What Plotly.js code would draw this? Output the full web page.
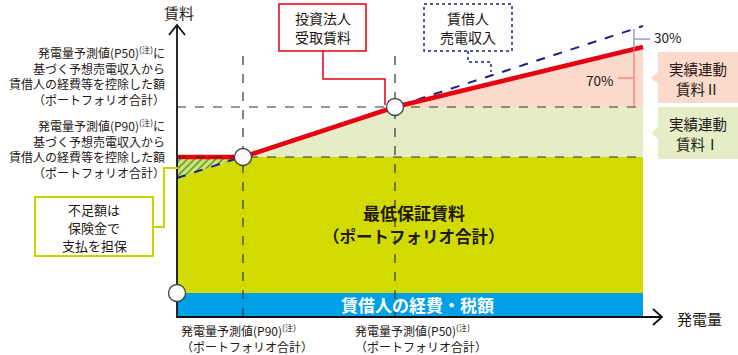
<!DOCTYPE html>
<html><head><meta charset="utf-8">
<script src="https://cdn.plot.ly/plotly-3.0.1.min.js"></script>
<style>html,body{margin:0;padding:0;background:#fff}#c{width:738px;height:355px}</style>
</head><body><div id="c"></div>
<script>
// ---- conceptual data (generation on x, rent on y) ----
const genX = [0, 66, 218, 466];          // origin, P90, P50, end of chart
const expenseTop = 24;                    // lessee expenses & taxes band
const minRent = 160;                      // minimum guaranteed rent
const p50Rent = 210;                      // rent level at P50
const lesseeRevenueX = [0, 466];
const lesseeRevenueY = [139, 291];        // lessee power-sales revenue (dashed)
const investorRentX = [0, 66, 218, 466];
const investorRentY = [160, 160, 210, 270]; // rent received by investment corp.
const axisTopY = 292, axisEndX = 485, refTopY = 264;
const shareLabels = ['30%', '70%'];

const W = 738, H = 355;
const FONT = '"Noto Sans CJK JP", "Noto Sans", sans-serif';
const TXT = '#231815';
const RED = '#e60012', NAVY = '#1d2088', BLUE = '#00a0e9', YG = '#d2db00', LG = '#e4edc6', SAL = '#fbdacb', YGB = '#c8d400';

const P90 = genX[1], P50 = genX[2], XE = genX[3];
const traces = [];
function poly(x, y, color, extra) {
  traces.push(Object.assign({type:'scatter', mode:'lines', x:x, y:y, fill:'toself', fillcolor:color, line:{width:0}, hoverinfo:'skip'}, extra||{}));
}
function line(x, y, color, width, dash) {
  traces.push({type:'scatter', mode:'lines', x:x, y:y, line:{color:color, width:width, dash:dash||'solid'}, hoverinfo:'skip'});
}
// fills
poly([0, XE, XE, 0], [0, 0, expenseTop, expenseTop], BLUE);
poly([0, XE, XE, 0], [expenseTop, expenseTop, minRent, minRent], YG);
poly([P90, P50, XE, XE], [minRent, p50Rent, p50Rent, minRent], LG);
poly([P50, XE, XE], [p50Rent, investorRentY[3], p50Rent], SAL);
poly([0, P90, 0], [minRent, minRent, lesseeRevenueY[0]], YG,
  {fillpattern:{shape:'/', fgcolor:'#4f9a3a', bgcolor:'#d8e070', size:5, solidity:0.3}});
// reference dashed lines
line([P90, P90], [0, refTopY], '#333', 1.2, 'dash');
line([P50, P50], [0, refTopY], '#333', 1.2, 'dash');
line([0, XE], [p50Rent, p50Rent], '#333', 1.2, 'dash');
// revenue & rent
line(lesseeRevenueX, lesseeRevenueY, NAVY, 2, 'dash');
line(investorRentX, investorRentY, RED, 4.5);
line([0, XE], [minRent, minRent], '#333', 1.2, 'dash');
// share brackets
const bx = 457;
const blueAt = lesseeRevenueY[0] + (lesseeRevenueY[1]-lesseeRevenueY[0])*bx/XE;
const redAt = p50Rent + (investorRentY[3]-p50Rent)*(bx-P50)/(XE-P50);
line([bx, bx], [redAt, blueAt], '#8a8fb8', 1.3);
line([bx, bx+16], [(redAt+blueAt)/2, (redAt+blueAt)/2], '#8a8fb8', 1.3);
line([bx, bx], [p50Rent, redAt], '#f08080', 1.3);
line([bx, bx-16], [(redAt+p50Rent)/2, (redAt+p50Rent)/2], '#f08080', 1.3);
// axes
line([0, 0], [-1, axisTopY], '#111', 1.8);
line([-8, 0, 8], [axisTopY-10, axisTopY, axisTopY-10], '#111', 1.8);
line([0, axisEndX], [0, 0], '#111', 1.8);
line([axisEndX-9, axisEndX, axisEndX-9], [8, 0, -8], '#111', 1.8);
// circles
traces.push({type:'scatter', mode:'markers', x:[P90, P50, 0], y:[minRent, p50Rent, expenseTop],
  marker:{size:17, color:'#fff', line:{color:'#444', width:1.3}}, hoverinfo:'skip'});

// ---- layout helpers (paper coords from pixels) ----
const px = x => x / W, py = y => 1 - y / H;
function path(pts, close) { return 'M ' + pts.map(p => px(p[0]) + ',' + py(p[1])).join(' L ') + (close ? ' Z' : ''); }
const shapes = [];
function shp(pts, close, lc, lw, fill, dash) {
  shapes.push({type:'path', xref:'paper', yref:'paper', path:path(pts, close),
    line:{color:lc, width:lw, dash:dash||'solid'}, fillcolor:fill||'rgba(0,0,0,0)', layer:'above'});
}
// boxes & connectors
shp([[323,51],[323,79],[385,79],[385,105]], false, RED, 1.5);
shp([[279,4],[366,4],[366,51],[279,51]], true, RED, 1.5, '#fff');
shp([[468,51],[468,62],[491,62],[491,72]], false, NAVY, 1.5, null, 'dot');
shp([[424,4],[512,4],[512,51],[424,51]], true, NAVY, 1.5, '#fff', 'dot');
shp([[153,227],[164,227],[164,168],[178,168]], false, YGB, 2);
shp([[35,197],[153,197],[153,256],[35,256]], true, YGB, 2, '#fff');
shp([[658,52],[738,52],[738,103],[658,103],[658,84],[651,78],[658,72]], true, 'rgba(0,0,0,0)', 0, SAL);
shp([[658,107],[738,107],[738,159],[658,159],[658,139],[651,133],[658,127]], true, 'rgba(0,0,0,0)', 0, LG);

const ann = [];
function t(text, x, y, size, opts) {
  ann.push(Object.assign({xref:'paper', yref:'paper', x:px(x), y:py(y), text:text, showarrow:false,
    xanchor:'center', yanchor:'middle', align:'center', font:{family:FONT, size:size, color:TXT}}, opts||{}));
}
function lines(arr, x, y0, dy, size, opts) { arr.forEach((s, i) => t(s, x, y0 + i*dy, size, opts)); }
const R = {xanchor:'right', align:'right'}, L = {xanchor:'left', align:'left'};
t(['発電量予測値(P50)<sup>(注)</sup>に','基づく予想売電収入から','賃借人の経費等を控除した額','（ポートフォリオ合計）'].join('<br>'), 167, 76, 12, R);
t(['発電量予測値(P90)<sup>(注)</sup>に','基づく予想売電収入から','賃借人の経費等を控除した額','（ポートフォリオ合計）'].join('<br>'), 167, 148, 12, R);
t(['発電量予測値(P90)<sup>(注)</sup>','（ポートフォリオ合計）'].join('<br>'), 179, 338, 12, L);
t(['発電量予測値(P50)<sup>(注)</sup>','（ポートフォリオ合計）'].join('<br>'), 353, 338, 12, L);
lines(['不足額は','保険金で','支払を担保'], 94, 209, 18, 13);
lines(['投資法人','受取賃料'], 323, 18, 19.5, 14);
lines(['賃借人','売電収入'], 468, 18, 19.5, 14);
lines(['実績連動','賃料Ⅱ'], 698, 69, 19.5, 14.5);
lines(['実績連動','賃料Ⅰ'], 698, 124, 19.5, 14.5);
t(shareLabels[0], 652, 37, 13.5, L);
t(shareLabels[1], 615, 80, 13.5, R);
t('賃料', 179, 13, 15);
t('発電量', 675, 318, 15, L);
t('<b>最低保証賃料</b>', 414, 212, 17);
t('<b>（ポートフォリオ合計）</b>', 414, 236, 16.5);
t('<b>賃借人の経費・税額</b>', 417, 304, 17, {font:{family:FONT, size:17, color:'#fff'}});

Plotly.newPlot('c', traces, {
  width:W, height:H, margin:{l:0, r:0, t:0, b:0}, showlegend:false,
  paper_bgcolor:'#fff', plot_bgcolor:'#fff',
  xaxis:{range:[-177, 561], visible:false, fixedrange:true},
  yaxis:{range:[-38, 317], visible:false, fixedrange:true},
  shapes:shapes, annotations:ann
}, {displayModeBar:false, staticPlot:true});
</script></body></html>
